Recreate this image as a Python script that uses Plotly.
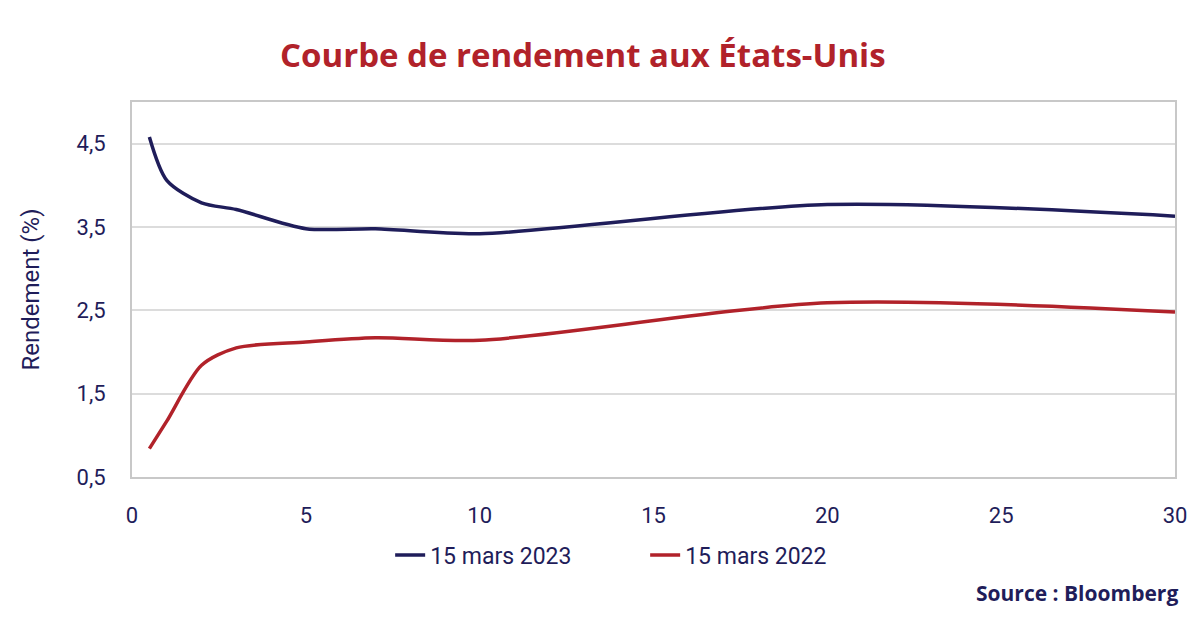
import plotly.graph_objects as go

# maturités (années) et rendements (%)
maturites = [0.5, 1, 2, 3, 5, 7, 10, 20, 30]
rend_2023 = [4.58, 4.06, 3.79, 3.71, 3.48, 3.48, 3.42, 3.77, 3.63]
rend_2022 = [0.84, 1.17, 1.84, 2.05, 2.12, 2.17, 2.14, 2.59, 2.48]

series = ["15 mars 2023", "15 mars 2022"]
couleurs = ["#1f1d5a", "#b1222a"]

navy = "#1f1d5a"
rouge = "#b1222a"

fig = go.Figure()

for nom, vals, coul in zip(series, [rend_2023, rend_2022], couleurs):
    fig.add_trace(
        go.Scatter(
            x=maturites,
            y=vals,
            name=nom,
            mode="lines",
            line=dict(color=coul, width=3.5, shape="spline", smoothing=0.8),
        )
    )

fig.update_layout(
    width=1200,
    height=621,
    plot_bgcolor="white",
    paper_bgcolor="white",
    separators=", ",
    font=dict(family="Roboto", color=navy, size=22),
    margin=dict(l=124, r=33, t=94, b=152),
    title=dict(
        text="<b>Courbe de rendement aux États-Unis</b>",
        x=0.479,
        xanchor="center",
        y=0.924,
        yanchor="middle",
        font=dict(family="Open Sans", size=33, color=rouge),
    ),
    showlegend=True,
    legend=dict(
        orientation="h",
        x=0.492,
        xanchor="center",
        y=-0.208,
        yanchor="middle",
        font=dict(size=23, color=navy),
        entrywidth=210,
        entrywidthmode="pixels",
        tracegroupgap=0,
    ),
    xaxis=dict(
        range=[0, 30],
        tickmode="linear",
        tick0=0,
        dtick=5,
        showgrid=False,
        zeroline=False,
        showline=True,
        linecolor="#c8c8c8",
        linewidth=2,
        mirror=True,
        ticks="",
        ticklabelstandoff=18,
        tickfont=dict(size=22, color=navy),
    ),
    yaxis=dict(
        range=[0.5, 5.0],
        tickmode="array",
        tickvals=[0.5, 1.5, 2.5, 3.5, 4.5],
        ticktext=["0,5", "1,5", "2,5", "3,5", "4,5"],
        showgrid=True,
        gridcolor="#dcdcdc",
        gridwidth=2,
        zeroline=False,
        showline=True,
        linecolor="#c8c8c8",
        linewidth=2,
        mirror=True,
        ticks="",
        ticklabelstandoff=20,
        title=dict(text="Rendement (%)", font=dict(size=24, color=navy), standoff=30),
        tickfont=dict(size=22, color=navy),
    ),
)

fig.add_annotation(
    text="<b>Source : Bloomberg</b>",
    xref="paper",
    yref="paper",
    x=1.005,
    y=-0.309,
    xanchor="right",
    yanchor="middle",
    showarrow=False,
    font=dict(family="Open Sans", size=21, color=navy),
)

fig.write_html("out.html")
